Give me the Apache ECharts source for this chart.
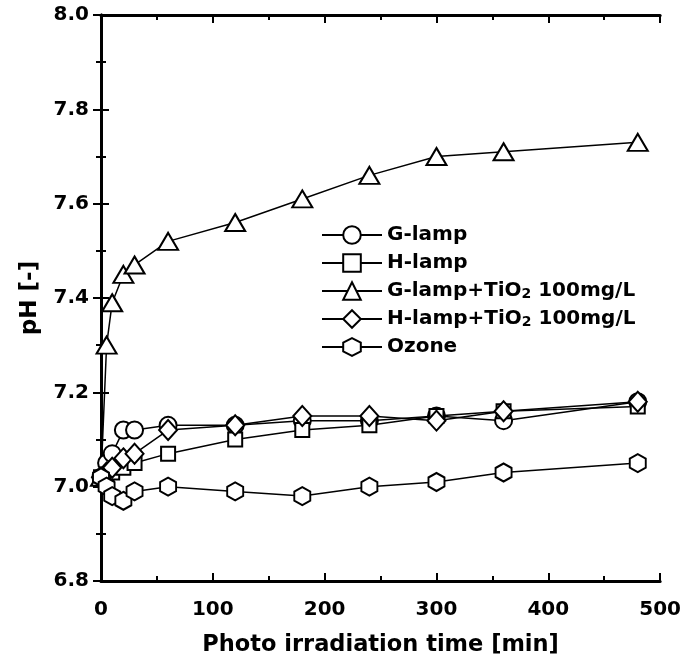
<!DOCTYPE html>
<html>
<head>
<meta charset="utf-8">
<script src="https://cdn.jsdelivr.net/npm/echarts@6/dist/echarts.min.js"></script>
<style>
  html, body { margin: 0; padding: 0; background: #fff; }
  #chart { width: 684px; height: 669px; }
</style>
</head>
<body>
<div id="chart"></div>
<script>
// irradiation times [min]
var times = [0, 5, 10, 20, 30, 60, 120, 180, 240, 300, 360, 480];

// pH values
var gLamp     = [7.02, 7.05, 7.07, 7.12, 7.12, 7.13, 7.13, 7.14, 7.14, 7.15, 7.14, 7.18];
var hLamp     = [7.02, 7.01, 7.03, 7.04, 7.05, 7.07, 7.10, 7.12, 7.13, 7.15, 7.16, 7.17];
var gLampTiO2 = [7.02, 7.30, 7.39, 7.45, 7.47, 7.52, 7.56, 7.61, 7.66, 7.70, 7.71, 7.73];
var hLampTiO2 = [7.02, 7.03, 7.04, 7.06, 7.07, 7.12, 7.13, 7.15, 7.15, 7.14, 7.16, 7.18];
var ozone     = [7.02, 7.00, 6.98, 6.97, 6.99, 7.00, 6.99, 6.98, 7.00, 7.01, 7.03, 7.05];

var seriesNames = ['G-lamp', 'H-lamp', 'G-lamp+TiO2 100mg/L', 'H-lamp+TiO2 100mg/L', 'Ozone'];

var fontFamily = 'DejaVu Sans';
var fontColor = '#000';
var hexagon = 'path://M0,-1 L0.866,-0.5 L0.866,0.5 L0,1 L-0.866,0.5 L-0.866,-0.5 Z';

function pairs(ys) {
    return times.map(function (t, i) { return [t, ys[i]]; });
}

function makeSeries(name, ys, symbol, size) {
    return {
        name: name,
        type: 'line',
        data: pairs(ys),
        symbol: symbol,
        symbolSize: size,
        showAllSymbol: true,
        lineStyle: { color: '#000', width: 1.5 },
        itemStyle: { color: '#fff', borderColor: '#000', borderWidth: 2 },
        emphasis: { disabled: true }
    };
}

var chart = echarts.init(document.getElementById('chart'));

var axisLine = { lineStyle: { color: '#000', width: 3 } };
var tick = { inside: true, length: 8, lineStyle: { color: '#000', width: 2 } };
var minorTick = { show: true, splitNumber: 2, length: 5, lineStyle: { color: '#000', width: 2 } };

var option = {
    animation: false,
    grid: { left: 101, right: 23, top: 15, bottom: 88 },
    legend: {
        data: seriesNames,
        orient: 'vertical',
        left: 316,
        top: 220,
        itemWidth: 60,
        itemHeight: 22,
        itemGap: 8,
        selectedMode: false,
        formatter: function (n) {
            if (n.indexOf('TiO2') < 0) return '{a|' + n + '}';
            var p = n.split('TiO2');
            return '{a|' + p[0] + 'TiO}{sub|2}{a|' + p[1] + '}';
        },
        textStyle: {
            color: fontColor,
            rich: {
                a: { fontFamily: fontFamily, fontWeight: 'bold', fontSize: 20, color: fontColor, lineHeight: 20 },
                sub: { fontFamily: fontFamily, fontWeight: 'bold', fontSize: 14, color: fontColor, lineHeight: 2, padding: [6, 0, 0, 0], verticalAlign: 'bottom' }
            }
        }
    },
    xAxis: [{
        type: 'value',
        min: 0, max: 500, interval: 100,
        name: 'Photo irradiation time [min]',
        nameLocation: 'middle',
        nameGap: 53,
        nameTextStyle: { fontFamily: fontFamily, fontWeight: 'bold', fontSize: 22.5, color: fontColor },
        axisLine: axisLine,
        axisTick: tick,
        minorTick: minorTick,
        splitLine: { show: false },
        axisLabel: { margin: 19, fontFamily: fontFamily, fontWeight: 'bold', fontSize: 20, color: fontColor }
    }, {
        type: 'value', position: 'top',
        min: 0, max: 500, interval: 100,
        axisLine: axisLine, axisTick: tick, minorTick: minorTick,
        splitLine: { show: false }, axisLabel: { show: false }
    }],
    yAxis: [{
        type: 'value',
        min: 6.8, max: 8.0, interval: 0.2,
        name: 'pH [-]',
        nameLocation: 'middle',
        nameGap: 59,
        nameTextStyle: { fontFamily: fontFamily, fontWeight: 'bold', fontSize: 23, color: fontColor },
        axisLine: axisLine,
        axisTick: tick,
        minorTick: minorTick,
        splitLine: { show: false },
        axisLabel: {
            margin: 12, fontFamily: fontFamily, fontWeight: 'bold', fontSize: 20, color: fontColor,
            formatter: function (v) { return v.toFixed(1); }
        }
    }, {
        type: 'value', position: 'right',
        min: 6.8, max: 8.0, interval: 0.2,
        axisLine: axisLine, axisTick: tick, minorTick: minorTick,
        splitLine: { show: false }, axisLabel: { show: false }
    }],
    series: [
        makeSeries(seriesNames[0], gLamp, 'circle', 17),
        makeSeries(seriesNames[1], hLamp, 'rect', 14),
        makeSeries(seriesNames[2], gLampTiO2, 'triangle', [20, 17]),
        makeSeries(seriesNames[3], hLampTiO2, 'diamond', [18, 20]),
        makeSeries(seriesNames[4], ozone, hexagon, [16, 18])
    ]
};
chart.setOption(option);
</script>
</body>
</html>
